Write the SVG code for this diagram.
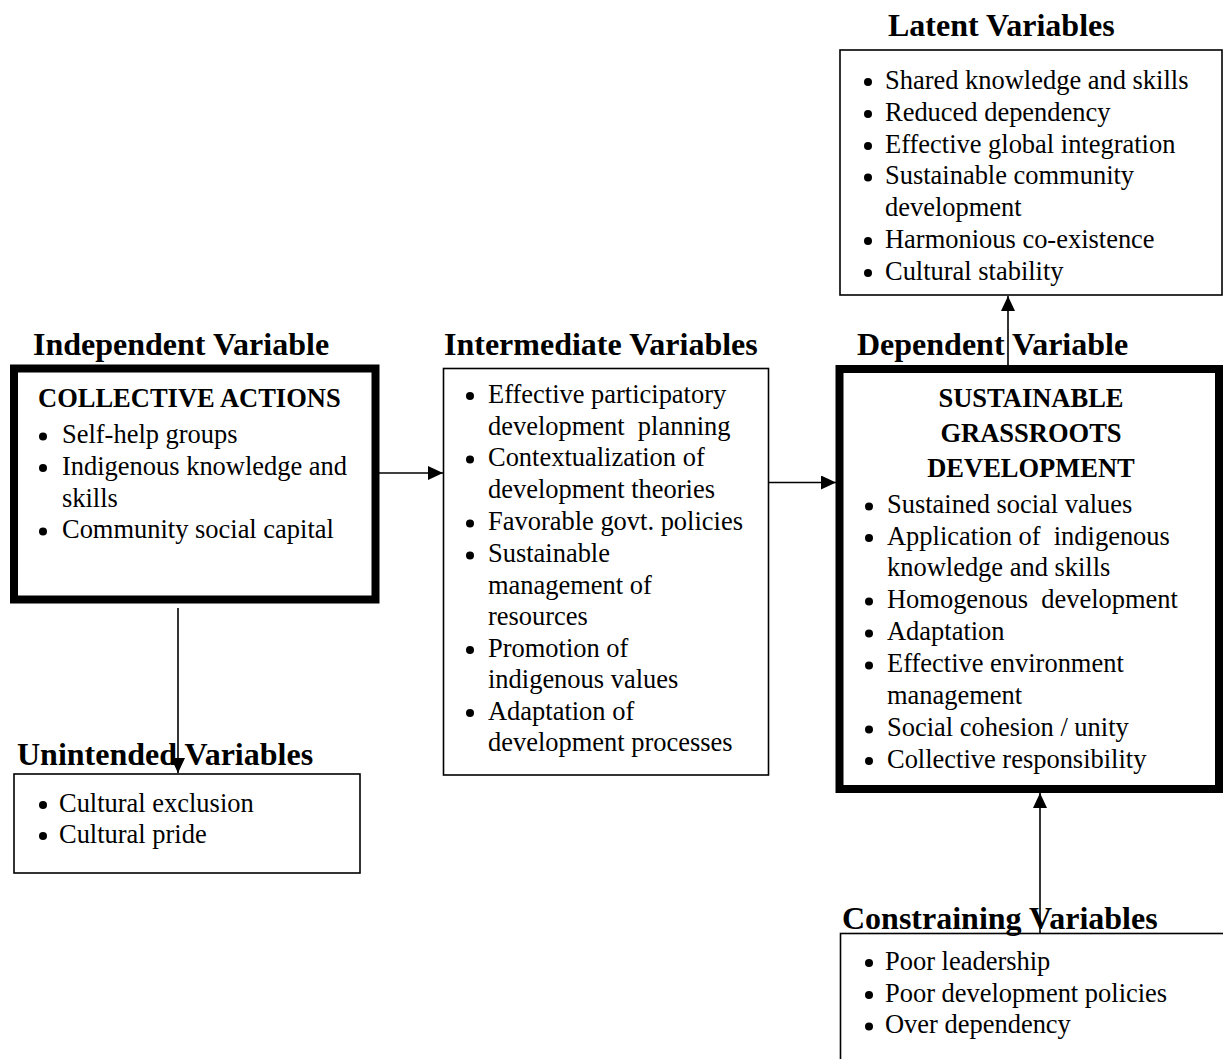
<svg xmlns="http://www.w3.org/2000/svg" width="1223" height="1059" viewBox="0 0 1223 1059">
<defs>
<style>
.bg{fill:#fff}
.box{fill:none;stroke:#000;stroke-width:1.6}
.thick{fill:none;stroke:#000;stroke-width:8}
.hd{font-family:"Liberation Serif","Times New Roman",serif;font-weight:bold;font-size:32px;fill:#000}
.ttl{font-family:"Liberation Serif","Times New Roman",serif;font-weight:bold;font-size:26.5px;fill:#000}
.it{font-family:"Liberation Serif","Times New Roman",serif;font-size:28px;fill:#000}
.bul{fill:#000}
.con{stroke:#000;stroke-width:1.6;fill:none;marker-end:url(#ah)}
</style>
<marker id="ah" markerWidth="15" markerHeight="14" refX="15" refY="7" orient="auto" markerUnits="userSpaceOnUse">
<path d="M0,0 L15,7 L0,14 z" fill="#000"/>
</marker>
</defs>
<rect class="bg" x="0" y="0" width="1223" height="1059"/>

<g id="node-latent">
<text class="hd" x="888" y="36">Latent Variables</text>
<rect class="box" x="840" y="50" width="382" height="245"/>
<g class="bul">
<circle cx="868" cy="82" r="4"/><circle cx="868" cy="114" r="4"/><circle cx="868" cy="146" r="4"/><circle cx="868" cy="177.5" r="4"/><circle cx="868" cy="241" r="4"/><circle cx="868" cy="273" r="4"/>
</g>
<g class="it" transform="matrix(0.945 0 0 1 885 0)">
<text y="89">Shared knowledge and skills</text>
<text y="121">Reduced dependency</text>
<text y="153">Effective global integration</text>
<text y="184.5">Sustainable community</text>
<text y="216">development</text>
<text y="248">Harmonious co-existence</text>
<text y="280">Cultural stability</text>
</g>
</g>

<g id="node-independent">
<text class="hd" x="33" y="355">Independent Variable</text>
<rect class="thick" x="14" y="368.5" width="361.5" height="231"/>
<text class="ttl" x="38" y="407">COLLECTIVE ACTIONS</text>
<g class="bul">
<circle cx="43" cy="436.5" r="4"/><circle cx="43" cy="468" r="4"/><circle cx="43" cy="531.5" r="4"/>
</g>
<g class="it" transform="matrix(0.945 0 0 1 62 0)">
<text y="443.5">Self-help groups</text>
<text y="475">Indigenous knowledge and</text>
<text y="507">skills</text>
<text y="538.5">Community social capital</text>
</g>
</g>

<g id="node-intermediate">
<text class="hd" x="444" y="355">Intermediate Variables</text>
<rect class="box" x="443.5" y="368.5" width="325" height="406.5"/>
<g class="bul">
<circle cx="470" cy="396" r="4"/><circle cx="470" cy="459.5" r="4"/><circle cx="470" cy="523.5" r="4"/><circle cx="470" cy="555.5" r="4"/><circle cx="470" cy="650" r="4"/><circle cx="470" cy="713" r="4"/>
</g>
<g class="it" transform="matrix(0.945 0 0 1 488 0)">
<text y="403">Effective participatory</text>
<text y="435">development&#160; planning</text>
<text y="466.5">Contextualization of</text>
<text y="498">development theories</text>
<text y="530.5">Favorable govt. policies</text>
<text y="562.5">Sustainable</text>
<text y="594">management of</text>
<text y="625.5">resources</text>
<text y="657">Promotion of</text>
<text y="688.5">indigenous values</text>
<text y="720">Adaptation of</text>
<text y="751">development processes</text>
</g>
</g>

<g id="node-dependent">
<text class="hd" x="857" y="355">Dependent Variable</text>
<rect class="thick" x="839.5" y="369" width="379.5" height="420"/>
<text class="ttl" x="1031" y="407" text-anchor="middle">SUSTAINABLE</text>
<text class="ttl" x="1031" y="442" text-anchor="middle">GRASSROOTS</text>
<text class="ttl" x="1031" y="477" text-anchor="middle">DEVELOPMENT</text>
<g class="bul">
<circle cx="869" cy="506.5" r="4"/><circle cx="869" cy="538" r="4"/><circle cx="869" cy="601.5" r="4"/><circle cx="869" cy="633.5" r="4"/><circle cx="869" cy="665.5" r="4"/><circle cx="869" cy="729.5" r="4"/><circle cx="869" cy="761" r="4"/>
</g>
<g class="it" transform="matrix(0.945 0 0 1 887 0)">
<text y="513.5">Sustained social values</text>
<text y="545">Application of&#160; indigenous</text>
<text y="576.5">knowledge and skills</text>
<text y="608.5">Homogenous&#160; development</text>
<text y="640.5">Adaptation</text>
<text y="672.5">Effective environment</text>
<text y="704.5">management</text>
<text y="736.5">Social cohesion / unity</text>
<text y="768">Collective responsibility</text>
</g>
</g>

<g id="node-unintended">
<text class="hd" x="17" y="765">Unintended Variables</text>
<rect class="box" x="14" y="774" width="346" height="99"/>
<g class="bul">
<circle cx="43" cy="805" r="4"/><circle cx="43" cy="836" r="4"/>
</g>
<g class="it" transform="matrix(0.945 0 0 1 59 0)">
<text y="812">Cultural exclusion</text>
<text y="843">Cultural pride</text>
</g>
</g>

<g id="node-constraining">
<text class="hd" x="842" y="929">Constraining Variables</text>
<rect class="box" x="840.5" y="933.5" width="400" height="140"/>
<g class="bul">
<circle cx="869" cy="963" r="4"/><circle cx="869" cy="995" r="4"/><circle cx="869" cy="1026.5" r="4"/>
</g>
<g class="it" transform="matrix(0.945 0 0 1 885 0)">
<text y="970">Poor leadership</text>
<text y="1002">Poor development policies</text>
<text y="1033.5">Over dependency</text>
</g>
</g>

<g id="connectors">
<line class="con" x1="379" y1="473" x2="443" y2="473"/>
<line class="con" x1="768.5" y1="482.5" x2="836" y2="482.5"/>
<line class="con" x1="1008" y1="365" x2="1008" y2="296"/>
<line class="con" x1="178" y1="608" x2="178" y2="773"/>
<line class="con" x1="1040" y1="933" x2="1040" y2="793"/>
</g>
</svg>
